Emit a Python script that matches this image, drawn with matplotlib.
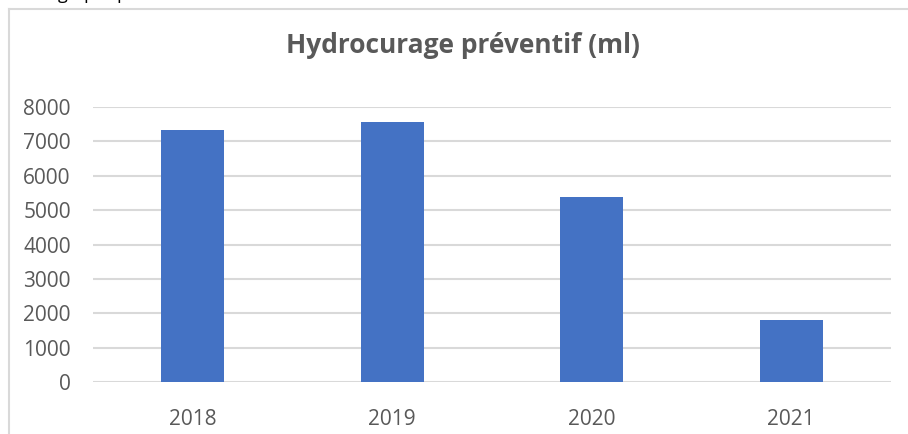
import matplotlib.pyplot as plt
from matplotlib.lines import Line2D

# données : linéaire d'hydrocurage préventif par année
annees = ["2018", "2019", "2020", "2021"]
lineaire_ml = [7330, 7550, 5380, 1810]
graduations = [0, 1000, 2000, 3000, 4000, 5000, 6000, 7000, 8000]

W, H = 908, 434
fig = plt.figure(figsize=(W / 100, H / 100), dpi=100)
fig.patch.set_facecolor("white")

# texte du document coupé en haut de page
fig.text(58 / W, 1 + 1.5 / H, "graphique", fontsize=13, color="black",
         family="Open Sans", ha="left", va="baseline")

# cadre du graphique (bords gauche et haut visibles)
gris_cadre = "#D9D9D9"
fig.add_artist(Line2D([8.5 / W, 8.5 / W], [0, 1 - 8.5 / H],
                      transform=fig.transFigure, color=gris_cadre, lw=1.5))
fig.add_artist(Line2D([8.5 / W, 1], [1 - 8.5 / H, 1 - 8.5 / H],
                      transform=fig.transFigure, color=gris_cadre, lw=1.5))

ax = fig.add_axes([93 / W, 1 - 382.3 / H, (891 - 93) / W, (382.3 - 107) / H])
x = range(len(annees))
ax.bar(x, lineaire_ml, width=0.314, color="#4472C4", zorder=3)

ax.set_xlim(-0.5, len(annees) - 0.5)
ax.set_ylim(0, 8000)
ax.set_yticks(graduations)
ax.set_xticks(list(x))
ax.set_xticklabels(annees)

for y in graduations:
    ax.axhline(y, color="#D9D9D9", lw=1.5, zorder=1)

for s in ax.spines.values():
    s.set_visible(False)
ax.tick_params(axis="both", length=0, labelsize=15, labelcolor="#595959")
ax.tick_params(axis="y", pad=16)
ax.tick_params(axis="x", pad=19)
for lab in ax.get_xticklabels() + ax.get_yticklabels():
    lab.set_family("Open Sans")

fig.text((283 + 643) / 2 / W, 1 - 53 / H, "Hydrocurage préventif (ml)",
         fontsize=19, fontweight="bold", color="#595959", family="Open Sans",
         ha="center", va="baseline")

fig.savefig("out.png", dpi=100)
